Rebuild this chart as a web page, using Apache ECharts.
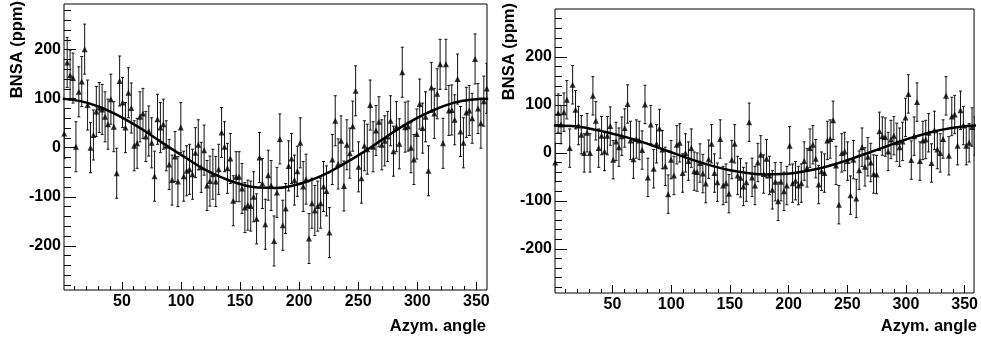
<!DOCTYPE html>
<html>
<head>
<meta charset="utf-8">
<script src="https://cdn.jsdelivr.net/npm/echarts@6/dist/echarts.min.js"></script>
<style>
  html, body { margin: 0; padding: 0; background: #fff; }
  #main { width: 981px; height: 338px; }
</style>
</head>
<body>
<div id="main"></div>
<script>
// BNSA per azimuthal bin (ppm)
const leftBnsa = [
  29, 174, 148, 142, 2, 114, 135, 201, 87, 0, 26, 74, 82, 78, 63, 48, 99, 43, -52, 136,
  92, 41, 112, 81, 4, 9, 63, 70, 23, 34, 10, -58, 58, 41, 48, 4, -34, -66, -18, -69,
  41, -58, -47, -44, -54, -10, 6, -40,
  -5, -77, -68, -54, -69, -44, 31, 2, -42, -22, -108, -59, -59, -83, -122, -117, -119, -100, -145, -20,
  -73, -156, -56, -77, -190, -91, 18, -158, -124, -37, -22, -66, -48, 10, -79, -64, -185, -113, -128, -119,
  -113, -79, -88, -173, -24, 55, -33, 14, -78, 6,
  -11, 44, 116, -39, -62, 4, -3, 87, 2, 35, 53, 6, 14, 23, 55, -7, 43, 8, 154, 42,
  44, 0, -24, 28, 89, 40, 63, -47, 123, 70, 110, 170, 9, 170, 76, 77, 57, 140, 33, 10,
  72, 76, 60, 181, 80, 50, 95, 121
];
const rightBnsa = [
  -20, 83, 59, 85, 111, 10, 142, 90, 57, 38, 0, 42, 0, 119, 67, 10, 36, 3, 36, 56,
  -14, 24, 12, 35, 52, 102, 26, -13, 29, 26, 6, 101, -51, 59, -33, 19, 51, 7, -28, -86,
  -14, -47, 17, 21, -42, 0, -17, 10, -38,
  -40, -21, -43, -64, -13, 19, -42, -61, 29, -68, -63, -85, -14, 19, -47, -52, -70, -61, 64, -51,
  -68, -20, -4, -44, -12, -47, -77, -60, -101, -60, -80, -68, 15, -63, -58, -68, -63, -17, -31, 10,
  17, -12, -66, -38, -42, 26, 29, 68,
  -26, -108, 0, 3, -17, -88, -14, -95, -36, 12, -29, -8, -20, -44, -45, 45, 35, 33, 3, 28,
  36, 22, 12, 24, 74, 123, -15, 35, 106, -17, 26, 28, 42, -21, 47, 7, 0, 29, 119, -6,
  76, 80, 15, 89, 57, 15, 21, 54, 35
];
const leftErr = 51;
const rightErr = 40;

// fitted cosine curves, read at every 15 degrees
const fitAngles = [0, 15, 30, 45, 60, 75, 90, 105, 120, 135, 150, 165, 180, 195, 210, 225, 240, 255, 270, 285, 300, 315, 330, 345, 360];
const leftFit = [100, 95, 84, 68, 48, 25, 1, -22, -44, -61, -74, -81, -82, -77, -66, -50, -30, -8, 16, 40, 61, 78, 91, 98, 100];
const rightFit = [57, 56, 51, 43, 34, 23, 10, -3, -16, -27, -36, -42, -45, -44, -40, -33, -23, -11, 2, 15, 28, 39, 48, 54, 57];

const xMajorTicks = [50, 100, 150, 200, 250, 300, 350];
const xMinorTicks = [10, 20, 30, 40, 60, 70, 80, 90, 110, 120, 130, 140, 160, 170, 180, 190, 210, 220, 230, 240, 260, 270, 280, 290, 310, 320, 330, 340];
const yMajorTicks = [-200, -100, 0, 100, 200];
const yMinorTicks = [-280, -260, -240, -220, -180, -160, -140, -120, -80, -60, -40, -20, 20, 40, 60, 80, 120, 140, 160, 180, 220, 240, 260, 280];

const xTitle = 'Azym. angle';
const yTitle = 'BNSA (ppm)';

const FONT = '"Liberation Sans", Arial, Helvetica, sans-serif';
const binWidth = 360 / leftBnsa.length;

function points(vals, err) {
  return vals.map((v, i) => [(i + 0.5) * binWidth, v, err]);
}
function curve(vals) {
  return vals.map((v, i) => [fitAngles[i], v]);
}

function errorBar(params, api) {
  const x = api.value(0), y = api.value(1), e = api.value(2);
  const top = api.coord([x, y + e]);
  const bot = api.coord([x, y - e]);
  const cap = 1.5;
  const st = { stroke: '#111', lineWidth: 1 };
  return {
    type: 'group',
    children: [
      { type: 'line', shape: { x1: top[0], y1: top[1], x2: bot[0], y2: bot[1] }, style: st },
      { type: 'line', shape: { x1: top[0] - cap, y1: top[1], x2: top[0] + cap, y2: top[1] }, style: st },
      { type: 'line', shape: { x1: bot[0] - cap, y1: bot[1], x2: bot[0] + cap, y2: bot[1] }, style: st }
    ]
  };
}

const chart = echarts.init(document.getElementById('main'));

const panels = [
  { grid: { left: 64, top: 4, width: 423, height: 286 }, x: [1, 359], y: [-290, 293], vals: leftBnsa, err: leftErr, fit: leftFit },
  { grid: { left: 555, top: 9, width: 422, height: 284 }, x: [1, 358], y: [-292, 300], vals: rightBnsa, err: rightErr, fit: rightFit }
];

const grid = [], xAxis = [], yAxis = [], series = [];
panels.forEach((p, k) => {
  grid.push(Object.assign({ show: true, borderColor: '#000', borderWidth: 1, backgroundColor: '#fff' }, p.grid));
  // major axis with labels
  xAxis.push({
    type: 'value', gridIndex: k, position: 'bottom', min: p.x[0], max: p.x[1],
    axisLine: { show: false, onZero: false }, splitLine: { show: false },
    axisTick: { inside: true, length: 8, customValues: xMajorTicks, lineStyle: { color: '#000' } },
    axisLabel: { customValues: xMajorTicks, margin: 4, color: '#000', fontSize: 16, fontWeight: 'bold', fontFamily: FONT }
  });
  // minor ticks
  xAxis.push({
    type: 'value', gridIndex: k, position: 'bottom', min: p.x[0], max: p.x[1],
    axisLine: { show: false, onZero: false }, splitLine: { show: false }, axisLabel: { show: false },
    axisTick: { inside: true, length: 4, customValues: xMinorTicks, lineStyle: { color: '#000' } }
  });
  yAxis.push({
    type: 'value', gridIndex: k, position: 'left', min: p.y[0], max: p.y[1],
    axisLine: { show: false, onZero: false }, splitLine: { show: false },
    axisTick: { inside: true, length: 12, customValues: yMajorTicks, lineStyle: { color: '#000' } },
    axisLabel: { customValues: yMajorTicks, margin: 3, color: '#000', fontSize: 16, fontWeight: 'bold', fontFamily: FONT }
  });
  yAxis.push({
    type: 'value', gridIndex: k, position: 'left', min: p.y[0], max: p.y[1],
    axisLine: { show: false, onZero: false }, splitLine: { show: false }, axisLabel: { show: false },
    axisTick: { inside: true, length: 7, customValues: yMinorTicks, lineStyle: { color: '#000' } }
  });
  const data = points(p.vals, p.err);
  series.push({
    type: 'custom', xAxisIndex: 2 * k, yAxisIndex: 2 * k,
    renderItem: errorBar, data: data, clip: true, silent: true
  });
  series.push({
    type: 'scatter', xAxisIndex: 2 * k, yAxisIndex: 2 * k,
    symbol: 'triangle', symbolSize: 6, itemStyle: { color: '#000' },
    data: data.map(d => [d[0], d[1]]), silent: true
  });
  series.push({
    type: 'line', xAxisIndex: 2 * k, yAxisIndex: 2 * k,
    data: curve(p.fit), smooth: true, showSymbol: false, symbol: 'none',
    lineStyle: { color: '#000', width: 2.5 }, z: 5, silent: true
  });
});

const titleStyle = { fill: '#000', fontSize: 16.5, fontWeight: 'bold', fontFamily: FONT };
chart.setOption({
  animation: false,
  grid, xAxis, yAxis, series,
  graphic: [
    { type: 'text', x: 17, y: 1, rotation: Math.PI / 2, style: Object.assign({ text: yTitle, align: 'right', verticalAlign: 'middle' }, titleStyle) },
    { type: 'text', x: 486, y: 326, style: Object.assign({ text: xTitle, align: 'right', verticalAlign: 'middle' }, titleStyle) },
    { type: 'text', x: 509, y: 3, rotation: Math.PI / 2, style: Object.assign({ text: yTitle, align: 'right', verticalAlign: 'middle' }, titleStyle) },
    { type: 'text', x: 977, y: 326, style: Object.assign({ text: xTitle, align: 'right', verticalAlign: 'middle' }, titleStyle) }
  ]
});
</script>
</body>
</html>
